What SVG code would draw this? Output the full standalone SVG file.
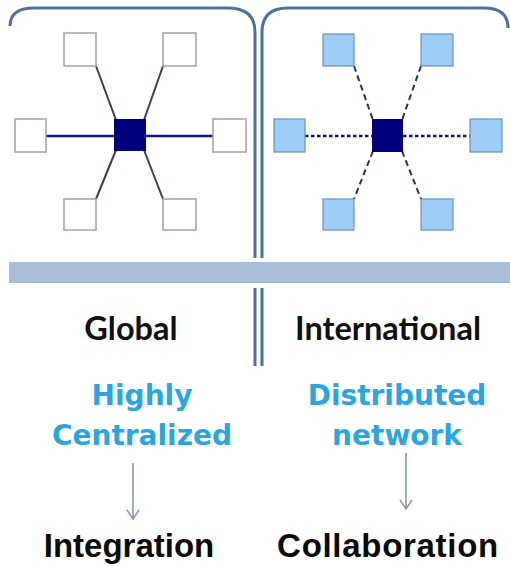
<svg xmlns="http://www.w3.org/2000/svg" width="510" height="566" viewBox="0 0 510 566">
<style>
.frame{fill:none;stroke:#4d71a3;stroke-width:3}
.gbox{fill:#ffffff;stroke:#a6a6b0;stroke-width:1.6}
.ibox{fill:#9dccf4;stroke:#6d90b8;stroke-width:1.2}
.hub{fill:#00007f}
.solidh{stroke:#13138a;stroke-width:2.4}
.solidd{stroke:#3c3c6c;stroke-width:2}
.dash{stroke:#2f2f55;stroke-width:2;stroke-dasharray:6 4}
.dot{stroke:#15155a;stroke-width:2.6;stroke-dasharray:3.5 2.5}
.arrow{stroke:#8295b2;stroke-width:1.5;fill:none}
.lbl{font-family:Lato,"Open Sans",sans-serif;font-weight:bold;font-size:32.5px;fill:#111;text-anchor:middle}
.blue{font-family:"DejaVu Sans",Verdana,sans-serif;font-weight:bold;font-size:28px;fill:#29a6df;text-anchor:middle}
.res{font-family:"Liberation Sans",Arial,sans-serif;font-weight:bold;font-size:33px;fill:#0a0a0a;text-anchor:middle}
</style>
<rect width="510" height="566" fill="#ffffff"/>
<g id="frames">
<path class="frame" d="M10,26 Q10,8 34,8 L228,8 Q255,8 255,32 L255,258 M255,288 L255,366"/>
<path class="frame" d="M262,366 L262,288 M262,258 L262,32 Q262,8 288,8 L484,8 Q508,8 508,28"/>
<rect x="9" y="262" width="501" height="21" fill="#a9bdd8"/>
</g>
<g id="connectors">
<line class="solidd" x1="96" y1="66" x2="116" y2="120"/>
<line class="solidd" x1="163" y1="66" x2="144" y2="120"/>
<line class="solidd" x1="116" y1="150" x2="96" y2="199"/>
<line class="solidd" x1="144" y1="150" x2="163" y2="199"/>
<line class="solidh" x1="46" y1="136" x2="114" y2="136"/>
<line class="solidh" x1="146" y1="136" x2="213" y2="136"/>
<line class="dash" x1="354" y1="66" x2="373" y2="120"/>
<line class="dash" x1="421" y1="66" x2="402" y2="120"/>
<line class="dash" x1="373" y1="151" x2="354" y2="199"/>
<line class="dash" x1="402" y1="151" x2="421" y2="199"/>
<line class="dot" x1="305" y1="136" x2="372" y2="136"/>
<line class="dot" x1="403" y1="136" x2="470" y2="136"/>
<path class="arrow" d="M133,463 L133,519 M127,510 L133,519 L139,510"/>
<path class="arrow" d="M406,453 L406,509 M400,500 L406,509 L412,500"/>
</g>
<g id="global-hub"><rect class="hub" x="114" y="119" width="32" height="32"/></g>
<g id="global-tl"><rect class="gbox" x="64" y="33" width="32" height="33"/></g>
<g id="global-tr"><rect class="gbox" x="163" y="33" width="33" height="33"/></g>
<g id="global-l"><rect class="gbox" x="15" y="119" width="31" height="33"/></g>
<g id="global-r"><rect class="gbox" x="213" y="119" width="33" height="33"/></g>
<g id="global-bl"><rect class="gbox" x="64" y="199" width="32" height="31"/></g>
<g id="global-br"><rect class="gbox" x="163" y="199" width="33" height="31"/></g>
<g id="intl-hub"><rect class="hub" x="372" y="119" width="31" height="33"/></g>
<g id="intl-tl"><rect class="ibox" x="323" y="34" width="31" height="32"/></g>
<g id="intl-tr"><rect class="ibox" x="421" y="34" width="32" height="32"/></g>
<g id="intl-l"><rect class="ibox" x="274" y="119" width="31" height="33"/></g>
<g id="intl-r"><rect class="ibox" x="470" y="119" width="32" height="33"/></g>
<g id="intl-bl"><rect class="ibox" x="323" y="199" width="31" height="31"/></g>
<g id="intl-br"><rect class="ibox" x="421" y="199" width="32" height="31"/></g>
<g id="labels">
<text class="lbl" x="131" y="340">Global</text>
<text class="lbl" x="388" y="340">International</text>
<text class="blue" x="142" y="405">Highly</text>
<text class="blue" x="142" y="445">Centralized</text>
<text class="blue" x="397" y="405">Distributed</text>
<text class="blue" x="397" y="445">network</text>
<text class="res" x="129" y="557">Integration</text>
<text class="res" x="388" y="557" letter-spacing="0.7">Collaboration</text>
</g>
</svg>
